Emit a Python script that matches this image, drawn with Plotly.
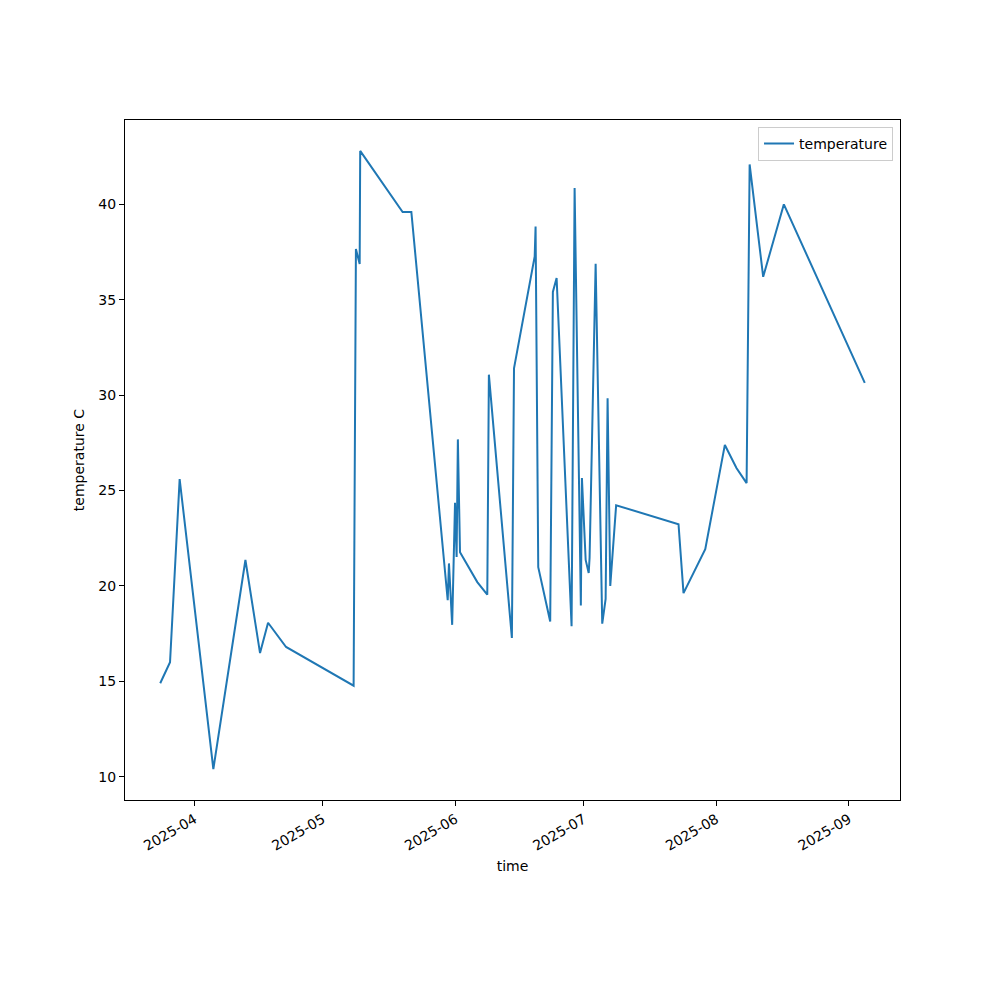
import plotly.graph_objects as go
import pandas as pd

times = [
    "2025-03-24 00:00", "2025-03-26 07:00", "2025-03-28 13:00", "2025-04-05 10:00",
    "2025-04-12 22:00", "2025-04-16 08:00", "2025-04-18 05:00", "2025-04-22 10:00",
    "2025-05-08 05:00", "2025-05-08 18:00", "2025-05-09 15:00", "2025-05-09 18:00",
    "2025-05-19 16:00", "2025-05-21 17:00", "2025-05-30 05:00", "2025-05-30 12:00",
    "2025-05-31 06:00", "2025-05-31 22:00", "2025-06-01 07:00", "2025-06-01 14:00",
    "2025-06-02 02:00", "2025-06-06 03:00", "2025-06-08 11:00", "2025-06-08 20:00",
    "2025-06-14 05:00", "2025-06-14 17:00", "2025-06-19 13:00", "2025-06-19 18:00",
    "2025-06-20 09:00", "2025-06-23 04:00", "2025-06-23 19:00", "2025-06-24 16:00",
    "2025-06-28 04:00", "2025-06-28 21:00", "2025-06-30 08:00", "2025-06-30 14:00",
    "2025-07-01 11:00", "2025-07-02 04:00", "2025-07-02 09:00", "2025-07-03 19:00",
    "2025-07-05 08:00", "2025-07-06 03:00", "2025-07-06 14:00", "2025-07-07 05:00",
    "2025-07-08 14:00", "2025-07-23 04:00", "2025-07-24 08:00", "2025-07-29 10:00",
    "2025-08-03 00:00", "2025-08-05 17:00", "2025-08-08 02:00", "2025-08-08 19:00",
    "2025-08-11 23:00", "2025-08-16 19:00", "2025-09-04 17:00",
]
temperature = [
    14.9, 16.0, 25.6, 10.4,
    21.36, 16.48, 18.07, 16.8,
    14.77, 37.66, 36.87, 42.8,
    39.6, 39.6, 19.25, 21.18,
    17.96, 24.36, 21.52, 27.68,
    21.77, 20.2, 19.54, 31.07,
    17.27, 31.41, 37.27, 38.84,
    20.98, 18.14, 35.41, 36.14,
    17.89, 40.86, 18.98, 25.66,
    21.36, 20.68, 21.48, 36.89,
    18.02, 19.32, 29.84, 20.0,
    24.23, 23.23, 19.62, 21.93,
    27.39, 26.18, 25.39, 42.09,
    36.2, 40.0, 30.64,
]
series_name = "temperature"
x_title = "time"
y_title = "temperature C"
y_ticks = [10, 15, 20, 25, 30, 35, 40]

t = pd.to_datetime(times)
tmin, tmax = t.min(), t.max()
pad = (tmax - tmin) * 0.05
x_range = [tmin - pad, tmax + pad]
vmin, vmax = min(temperature), max(temperature)
vpad = (vmax - vmin) * 0.05
y_range = [vmin - vpad, vmax + vpad]

font = dict(family="DejaVu Sans", size=14, color="black")

fig = go.Figure()
fig.add_trace(go.Scatter(
    x=t, y=temperature, mode="lines", name=series_name,
    line=dict(color="#1f77b4", width=2),
    showlegend=True,
))

fig.update_layout(
    width=1000, height=1000,
    margin=dict(l=117, r=108, t=112, b=208),
    paper_bgcolor="white", plot_bgcolor="white",
    font=font,
    showlegend=True,
    legend=dict(
        x=0.991, y=0.99, xanchor="right", yanchor="top",
        bgcolor="rgba(255,255,255,0.8)", bordercolor="#cccccc", borderwidth=1,
        font=dict(family="DejaVu Sans", size=14),
    ),
    xaxis=dict(
        range=x_range, showgrid=False, zeroline=False,
        showline=True, linecolor="black", linewidth=1, mirror=True,
        ticks="outside", ticklen=5, tickcolor="black",
        dtick="M1", tick0="2025-01-01", tickformat="%Y-%m", tickangle=-30,
        title=dict(text=x_title, font=font, standoff=8),
    ),
    yaxis=dict(
        range=y_range, showgrid=False, zeroline=False,
        showline=True, linecolor="black", linewidth=1, mirror=True,
        ticks="outside", ticklen=5, tickcolor="black",
        tickvals=y_ticks,
        title=dict(text=y_title, font=font, standoff=10),
    ),
)

fig.write_html("out.html")
